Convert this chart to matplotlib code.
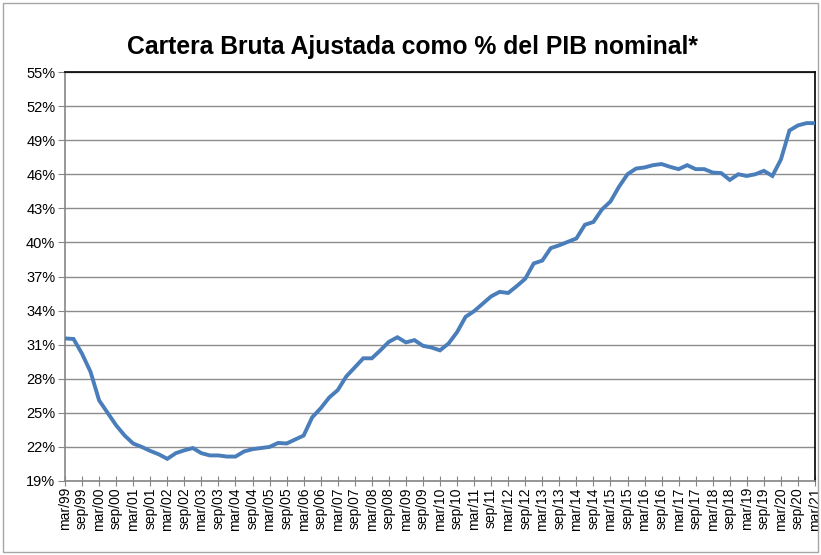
import matplotlib.pyplot as plt
from matplotlib.patches import Rectangle
from matplotlib.ticker import FuncFormatter
import numpy as np

plt.rcParams['font.family'] = ['Liberation Sans Narrow', 'Liberation Sans', 'DejaVu Sans']

# cartera bruta ajustada / PIB nominal (%), quarterly mar/99 .. mar/21
cartera_pib = [
    31.55, 31.5, 30.2, 28.6, 26.1, 25.0, 23.9, 23.0, 22.3, 22.0,
    21.65, 21.35, 20.95, 21.45, 21.7, 21.9, 21.45, 21.25, 21.25, 21.15,
    21.15, 21.6, 21.8, 21.9, 22.0, 22.35, 22.3, 22.65, 23.0, 24.6,
    25.4, 26.35, 27.0, 28.2, 29.0, 29.8, 29.8, 30.5, 31.25, 31.65,
    31.2, 31.4, 30.9, 30.75, 30.5, 31.1, 32.1, 33.45, 33.95, 34.6,
    35.25, 35.65, 35.55, 36.15, 36.8, 38.15, 38.4, 39.5, 39.75, 40.05,
    40.35, 41.55, 41.8, 42.9, 43.6, 44.9, 46.0, 46.5, 46.6, 46.8,
    46.9, 46.65, 46.45, 46.8, 46.45, 46.45, 46.15, 46.1, 45.5, 46.0,
    45.85, 46.0, 46.3, 45.85, 47.3, 49.85, 50.3, 50.5, 50.5,
]

# one label every two quarters
etiquetas = [
    'mar/99', 'sep/99', 'mar/00', 'sep/00', 'mar/01', 'sep/01', 'mar/02', 'sep/02',
    'mar/03', 'sep/03', 'mar/04', 'sep/04', 'mar/05', 'sep/05', 'mar/06', 'sep/06',
    'mar/07', 'sep/07', 'mar/08', 'sep/08', 'mar/09', 'sep/09', 'mar/10', 'sep/10',
    'mar/11', 'sep/11', 'mar/12', 'sep/12', 'mar/13', 'sep/13', 'mar/14', 'sep/14',
    'mar/15', 'sep/15', 'mar/16', 'sep/16', 'mar/17', 'sep/17', 'mar/18', 'sep/18',
    'mar/19', 'sep/19', 'mar/20', 'sep/20', 'mar/21',
]

y_ticks = [19, 22, 25, 28, 31, 34, 37, 40, 43, 46, 49, 52, 55]

x = np.arange(len(cartera_pib))

fig = plt.figure(figsize=(8.21, 5.55), dpi=100)
ax = fig.add_axes([65/821, 1-481/555, 750/821, 409/555])

# chart area border
fig.patches.append(Rectangle((3/821, 3/555), 815/821, 549/555, transform=fig.transFigure,
                             fill=False, edgecolor='#a6a6a6', linewidth=1))

ax.plot(x, cartera_pib, color='#4a7ebb', linewidth=2.8, solid_joinstyle='miter', zorder=3)

ax.set_xlim(0, len(cartera_pib) - 1)
ax.set_ylim(19, 55)
ax.set_yticks(y_ticks)
ax.yaxis.set_major_formatter(FuncFormatter(lambda v, p: '%d%%' % v))
ax.set_xticks(x[::2])
ax.set_xticklabels(etiquetas, rotation=90, fontsize=10)
ax.tick_params(axis='y', labelsize=10.5, direction='out', length=5, color='#868686', pad=2)
ax.tick_params(axis='x', direction='inout', length=7, color='#868686', pad=1)

ax.grid(axis='y', color='#8c8c8c', linewidth=1)
ax.set_axisbelow(True)

ax.spines['left'].set_color('#868686')
ax.spines['bottom'].set_color('#868686')
ax.spines['top'].set_color('black')
ax.spines['right'].set_color('black')
for s in ax.spines.values():
    s.set_linewidth(1.2)

fig.text(0.503, 1-47/555, 'Cartera Bruta Ajustada como % del PIB nominal*',
         ha='center', va='center', fontsize=17.8, fontweight='bold',
         family=['Liberation Sans', 'DejaVu Sans'])

fig.savefig('out.png', dpi=100)
